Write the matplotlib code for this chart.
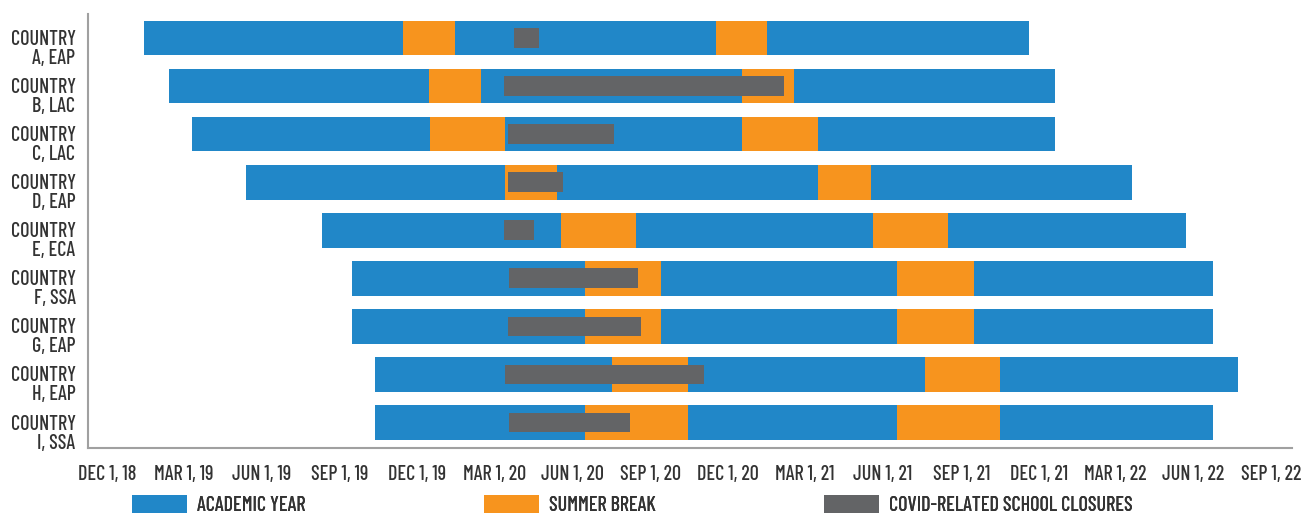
import numpy as np
import matplotlib.pyplot as plt
import matplotlib.dates as mdates
from matplotlib.patches import Patch
from matplotlib.transforms import ScaledTranslation

plt.rcParams['font.family'] = ['Barlow Condensed', 'DejaVu Sans']
plt.rcParams['font.weight'] = 'medium'

countries = ["COUNTRY\nA, EAP", "COUNTRY\nB, LAC", "COUNTRY\nC, LAC", "COUNTRY\nD, EAP",
             "COUNTRY\nE, ECA", "COUNTRY\nF, SSA", "COUNTRY\nG, EAP", "COUNTRY\nH, EAP",
             "COUNTRY\nI, SSA"]

year_start = ["2019-01-14", "2019-02-12", "2019-03-11", "2019-05-14", "2019-08-11",
              "2019-09-15", "2019-09-15", "2019-10-13", "2019-10-13"]
year_end = ["2021-11-20", "2021-12-20", "2021-12-20", "2022-03-21", "2022-05-23",
            "2022-06-24", "2022-06-24", "2022-07-23", "2022-06-24"]
break1_start = ["2019-11-14", "2019-12-15", "2019-12-16", "2020-03-14", "2020-05-18",
                "2020-06-15", "2020-06-15", "2020-07-17", "2020-06-15"]
break1_end = ["2020-01-15", "2020-02-14", "2020-03-14", "2020-05-14", "2020-08-15",
              "2020-09-13", "2020-09-13", "2020-10-15", "2020-10-15"]
break2_start = ["2020-11-16", "2020-12-17", "2020-12-17", "2021-03-17", "2021-05-20",
                "2021-06-18", "2021-06-18", "2021-07-20", "2021-06-18"]
break2_end = ["2021-01-16", "2021-02-16", "2021-03-16", "2021-05-18", "2021-08-17",
              "2021-09-16", "2021-09-16", "2021-10-17", "2021-10-17"]
covid_start = ["2020-03-24", "2020-03-12", "2020-03-17", "2020-03-17", "2020-03-12",
               "2020-03-18", "2020-03-17", "2020-03-14", "2020-03-18"]
covid_end = ["2020-04-23", "2021-02-05", "2020-07-20", "2020-05-21", "2020-04-16",
             "2020-08-17", "2020-08-20", "2020-11-02", "2020-08-07"]

tick_dates = ["2018-12-01", "2019-03-01", "2019-06-01", "2019-09-01", "2019-12-01",
              "2020-03-01", "2020-06-01", "2020-09-01", "2020-12-01", "2021-03-01",
              "2021-06-01", "2021-09-01", "2021-12-01", "2022-03-01", "2022-06-01",
              "2022-09-01"]
tick_labels = ["DEC 1, 18", "MAR 1, 19", "JUN 1, 19", "SEP 1, 19", "DEC 1, 19",
               "MAR 1, 20", "JUN 1, 20", "SEP 1, 20", "DEC 1, 20", "MAR 1, 21",
               "JUN 1, 21", "SEP 1, 21", "DEC 1, 21", "MAR 1, 22", "JUN 1, 22",
               "SEP 1, 22"]

BLUE = "#2187c8"
ORANGE = "#f7941e"
GRAY = "#636466"
TEXT = "#333333"
FS = 14.5


def num(dates):
    return mdates.date2num(np.array(dates, dtype="datetime64[D]"))


fig = plt.figure(figsize=(13.03, 5.13), dpi=100)
ax = fig.add_axes([88 / 1303, 1 - 448 / 513, (1292 - 88) / 1303, (448 - 14) / 513])

y = np.arange(len(countries))
ys, ye = num(year_start), num(year_end)
ax.barh(y, ye - ys, left=ys, height=0.72, color=BLUE, zorder=2)
for bs, be in [(break1_start, break1_end), (break2_start, break2_end)]:
    s, e = num(bs), num(be)
    ax.barh(y, e - s, left=s, height=0.72, color=ORANGE, zorder=3)
cs, ce = num(covid_start), num(covid_end)
ax.barh(y, ce - cs, left=cs, height=0.41, color=GRAY, zorder=4)

ax.set_xlim(num(["2018-11-09"])[0], num(["2022-09-25"])[0])
ax.set_ylim(len(countries) - 0.47, -0.5)

ax.set_xticks(num(tick_dates))
ax.set_xticklabels(tick_labels, fontsize=FS, color=TEXT)
ax.set_yticks(y)
ax.set_yticklabels(countries, fontsize=FS, color=TEXT, ha="right", linespacing=1.0)
ax.tick_params(axis="both", length=0)
ax.tick_params(axis="x", pad=12)
ax.tick_params(axis="y", pad=9)
shift = ScaledTranslation(0, -9 / 100, fig.dpi_scale_trans)
for lab in ax.get_yticklabels():
    lab.set_transform(lab.get_transform() + shift)

for side in ["top", "right"]:
    ax.spines[side].set_visible(False)
for side in ["left", "bottom"]:
    ax.spines[side].set_color("#a0a0a0")
    ax.spines[side].set_linewidth(1.5)

legend_items = [("ACADEMIC YEAR", BLUE, 132), ("SUMMER BREAK", ORANGE, 484),
                ("COVID-RELATED SCHOOL CLOSURES", GRAY, 824)]
for label, color, xpx in legend_items:
    leg = fig.legend(handles=[Patch(facecolor=color, label=label)], loc="center left",
                     bbox_to_anchor=(xpx / 1303, 1 - 505 / 513), frameon=False,
                     fontsize=FS, borderpad=0, borderaxespad=0, handlelength=2.75,
                     handleheight=1.05, handletextpad=0.5, labelcolor=TEXT)
    fig.add_artist(leg)

fig.savefig("out.png", dpi=100)
